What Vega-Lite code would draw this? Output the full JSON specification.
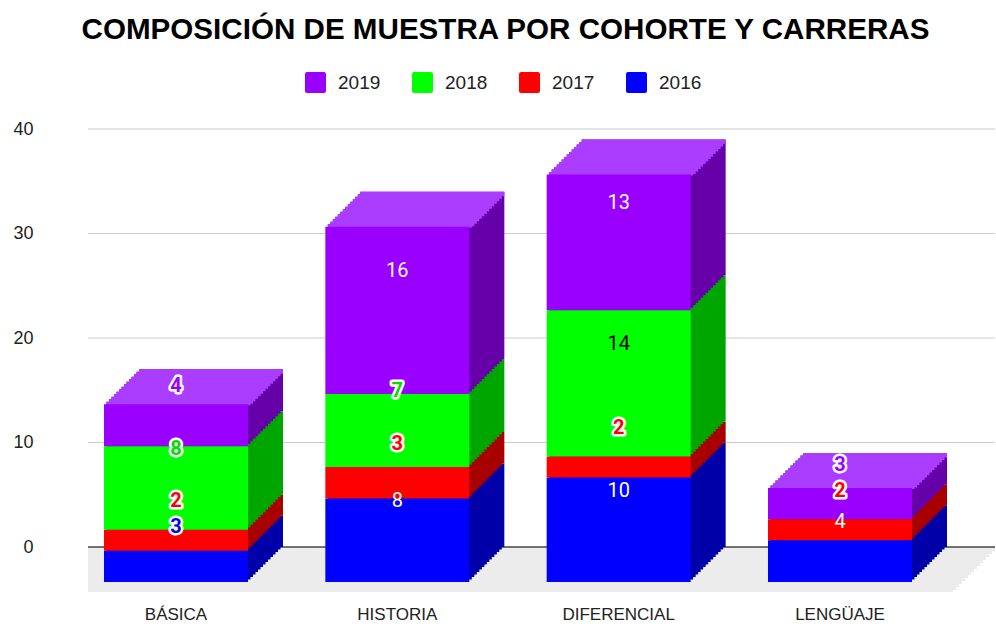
{
  "$schema": "https://vega.github.io/schema/vega-lite/v6.json",
  "autosize": "none",
  "width": 907,
  "height": 418,
  "padding": {"left": 88, "top": 129, "right": 1, "bottom": 79},
  "background": "white",
  "config": {"view": {"stroke": null}},
  "title": {"text": "COMPOSICIÓN DE MUESTRA POR COHORTE Y CARRERAS", "font": "Liberation Sans", "fontSize": 29.6, "fontWeight": "bold", "color": "#000000", "anchor": "middle", "dx": -36, "offset": 26},
  "data": {"values": [
    {"carrera": "BÁSICA", "cohorte": "2016", "n": 3},
    {"carrera": "BÁSICA", "cohorte": "2017", "n": 2},
    {"carrera": "BÁSICA", "cohorte": "2018", "n": 8},
    {"carrera": "BÁSICA", "cohorte": "2019", "n": 4},
    {"carrera": "HISTORIA", "cohorte": "2016", "n": 8},
    {"carrera": "HISTORIA", "cohorte": "2017", "n": 3},
    {"carrera": "HISTORIA", "cohorte": "2018", "n": 7},
    {"carrera": "HISTORIA", "cohorte": "2019", "n": 16},
    {"carrera": "DIFERENCIAL", "cohorte": "2016", "n": 10},
    {"carrera": "DIFERENCIAL", "cohorte": "2017", "n": 2},
    {"carrera": "DIFERENCIAL", "cohorte": "2018", "n": 14},
    {"carrera": "DIFERENCIAL", "cohorte": "2019", "n": 13},
    {"carrera": "LENGÜAJE", "cohorte": "2016", "n": 4},
    {"carrera": "LENGÜAJE", "cohorte": "2017", "n": 2},
    {"carrera": "LENGÜAJE", "cohorte": "2018", "n": 0},
    {"carrera": "LENGÜAJE", "cohorte": "2019", "n": 3}
  ]},
  "layer": [
    {
      "data": {"values": [{"v": 10}, {"v": 20}, {"v": 30}, {"v": 40}]},
      "mark": {"type": "rule", "color": "#cccccc", "strokeWidth": 1.2},
      "encoding": {"y": {"field": "v", "type": "quantitative"}}
    },
    {
      "data": {"values": [{}]},
      "encoding": {"y": {"datum": 0, "type": "quantitative"}, "y2": {"datum": 0}},
      "layer": [
        {"mark": {"type": "rect", "color": "#ececec", "yOffset": 0, "y2Offset": 4, "xOffset": 0, "x2Offset": 0}},
        {"mark": {"type": "rect", "color": "#ececec", "yOffset": 3, "y2Offset": 7, "xOffset": -3, "x2Offset": -3}},
        {"mark": {"type": "rect", "color": "#ececec", "yOffset": 6, "y2Offset": 10, "xOffset": -6, "x2Offset": -6}},
        {"mark": {"type": "rect", "color": "#ececec", "yOffset": 9, "y2Offset": 13, "xOffset": -9, "x2Offset": -9}},
        {"mark": {"type": "rect", "color": "#ececec", "yOffset": 12, "y2Offset": 16, "xOffset": -12, "x2Offset": -12}},
        {"mark": {"type": "rect", "color": "#ececec", "yOffset": 15, "y2Offset": 19, "xOffset": -15, "x2Offset": -15}},
        {"mark": {"type": "rect", "color": "#ececec", "yOffset": 18, "y2Offset": 22, "xOffset": -18, "x2Offset": -18}},
        {"mark": {"type": "rect", "color": "#ececec", "yOffset": 21, "y2Offset": 25, "xOffset": -21, "x2Offset": -21}},
        {"mark": {"type": "rect", "color": "#ececec", "yOffset": 24, "y2Offset": 28, "xOffset": -24, "x2Offset": -24}},
        {"mark": {"type": "rect", "color": "#ececec", "yOffset": 27, "y2Offset": 31, "xOffset": -27, "x2Offset": -27}},
        {"mark": {"type": "rect", "color": "#ececec", "yOffset": 30, "y2Offset": 34, "xOffset": -30, "x2Offset": -30}},
        {"mark": {"type": "rect", "color": "#ececec", "yOffset": 33, "y2Offset": 37, "xOffset": -33, "x2Offset": -33}},
        {"mark": {"type": "rect", "color": "#ececec", "yOffset": 36, "y2Offset": 40, "xOffset": -36, "x2Offset": -36}},
        {"mark": {"type": "rect", "color": "#ececec", "yOffset": 39, "y2Offset": 43, "xOffset": -39, "x2Offset": -39}},
        {"mark": {"type": "rect", "color": "#ececec", "yOffset": 42, "y2Offset": 45, "xOffset": -42, "x2Offset": -42}}
      ]
    },
    {
      "data": {"values": [{}]},
      "mark": {"type": "rule", "color": "#444444", "strokeWidth": 1.5},
      "encoding": {"y": {"datum": 0, "type": "quantitative"}}
    },
    {
      "encoding": {
        "x": {"field": "carrera", "type": "nominal",
              "scale": {"domain": ["BÁSICA", "HISTORIA", "DIFERENCIAL", "LENGÜAJE"], "range": [-22.67, 862.67], "paddingInner": 0, "paddingOuter": 0},
              "axis": {"title": null, "domain": false, "ticks": false, "tickSize": 0, "labelPadding": 59, "labelFont": "Liberation Sans", "labelFontSize": 17, "labelColor": "#222222", "labelAngle": 0}},
        "y": {"field": "n", "type": "quantitative", "stack": "zero",
              "scale": {"domain": [0, 40], "nice": false},
              "axis": {"title": null, "domain": false, "ticks": false, "tickSize": 0, "values": [0, 10, 20, 30, 40], "labelPadding": 55, "labelFont": "Liberation Sans", "labelFontSize": 18, "labelColor": "#222222", "grid": false}},
        "fill": {"field": "cohorte", "type": "nominal",
                 "scale": {"domain": ["2016", "2017", "2018", "2019"], "range": ["#0000a8", "#a80000", "#00a600", "#6600a8"]},
                 "legend": null},
        "order": {"field": "cohorte", "sort": "ascending"}
      },
      "layer": [
        {"mark": {"type": "bar", "width": 144, "xOffset": 35, "yOffset": 0, "y2Offset": 0}},
        {"mark": {"type": "bar", "width": 144, "xOffset": 32.5, "yOffset": 2.5, "y2Offset": 2.5}},
        {"mark": {"type": "bar", "width": 144, "xOffset": 30, "yOffset": 5, "y2Offset": 5}},
        {"mark": {"type": "bar", "width": 144, "xOffset": 27.5, "yOffset": 7.5, "y2Offset": 7.5}},
        {"mark": {"type": "bar", "width": 144, "xOffset": 25, "yOffset": 10, "y2Offset": 10}},
        {"mark": {"type": "bar", "width": 144, "xOffset": 22.5, "yOffset": 12.5, "y2Offset": 12.5}},
        {"mark": {"type": "bar", "width": 144, "xOffset": 20, "yOffset": 15, "y2Offset": 15}},
        {"mark": {"type": "bar", "width": 144, "xOffset": 17.5, "yOffset": 17.5, "y2Offset": 17.5}},
        {"mark": {"type": "bar", "width": 144, "xOffset": 15, "yOffset": 20, "y2Offset": 20}},
        {"mark": {"type": "bar", "width": 144, "xOffset": 12.5, "yOffset": 22.5, "y2Offset": 22.5}},
        {"mark": {"type": "bar", "width": 144, "xOffset": 10, "yOffset": 25, "y2Offset": 25}},
        {"mark": {"type": "bar", "width": 144, "xOffset": 7.5, "yOffset": 27.5, "y2Offset": 27.5}},
        {"mark": {"type": "bar", "width": 144, "xOffset": 5, "yOffset": 30, "y2Offset": 30}},
        {"mark": {"type": "bar", "width": 144, "xOffset": 2.5, "yOffset": 32.5, "y2Offset": 32.5}}
      ]
    },
    {
      "transform": [{"aggregate": [{"op": "sum", "field": "n", "as": "total"}], "groupby": ["carrera"]}],
      "encoding": {
        "x": {"field": "carrera", "type": "nominal"},
        "y": {"field": "total", "type": "quantitative"},
        "y2": {"field": "total"}
      },
      "layer": [
        {"mark": {"type": "bar", "color": "#aa3dff", "width": 144, "xOffset": 35, "yOffset": 0, "y2Offset": 4.5}},
        {"mark": {"type": "bar", "color": "#aa3dff", "width": 144, "xOffset": 32.5, "yOffset": 2.5, "y2Offset": 7}},
        {"mark": {"type": "bar", "color": "#aa3dff", "width": 144, "xOffset": 30, "yOffset": 5, "y2Offset": 9.5}},
        {"mark": {"type": "bar", "color": "#aa3dff", "width": 144, "xOffset": 27.5, "yOffset": 7.5, "y2Offset": 12}},
        {"mark": {"type": "bar", "color": "#aa3dff", "width": 144, "xOffset": 25, "yOffset": 10, "y2Offset": 14.5}},
        {"mark": {"type": "bar", "color": "#aa3dff", "width": 144, "xOffset": 22.5, "yOffset": 12.5, "y2Offset": 17}},
        {"mark": {"type": "bar", "color": "#aa3dff", "width": 144, "xOffset": 20, "yOffset": 15, "y2Offset": 19.5}},
        {"mark": {"type": "bar", "color": "#aa3dff", "width": 144, "xOffset": 17.5, "yOffset": 17.5, "y2Offset": 22}},
        {"mark": {"type": "bar", "color": "#aa3dff", "width": 144, "xOffset": 15, "yOffset": 20, "y2Offset": 24.5}},
        {"mark": {"type": "bar", "color": "#aa3dff", "width": 144, "xOffset": 12.5, "yOffset": 22.5, "y2Offset": 27}},
        {"mark": {"type": "bar", "color": "#aa3dff", "width": 144, "xOffset": 10, "yOffset": 25, "y2Offset": 29.5}},
        {"mark": {"type": "bar", "color": "#aa3dff", "width": 144, "xOffset": 7.5, "yOffset": 27.5, "y2Offset": 32}},
        {"mark": {"type": "bar", "color": "#aa3dff", "width": 144, "xOffset": 5, "yOffset": 30, "y2Offset": 34.5}},
        {"mark": {"type": "bar", "color": "#aa3dff", "width": 144, "xOffset": 2.5, "yOffset": 32.5, "y2Offset": 36}}
      ]
    },
    {
      "mark": {"type": "bar", "width": 144, "xOffset": 0, "yOffset": 35, "y2Offset": 35},
      "encoding": {
        "x": {"field": "carrera", "type": "nominal"},
        "y": {"field": "n", "type": "quantitative", "stack": "zero"},
        "color": {"field": "cohorte", "type": "nominal",
                  "scale": {"domain": ["2019", "2018", "2017", "2016"], "range": ["#9900ff", "#00ff00", "#ff0000", "#0000ff"]},
                  "legend": {"title": null, "orient": "none", "legendX": 217, "legendY": -57, "direction": "horizontal", "columns": 4, "columnPadding": 31, "padding": 0,
                             "symbolType": "M-0.8,-1H0.8Q1,-1,1,-0.8V0.8Q1,1,0.8,1H-0.8Q-1,1,-1,0.8V-0.8Q-1,-1,-0.8,-1Z",
                             "symbolSize": 441, "symbolStrokeWidth": 0, "labelOffset": 12, "labelFont": "Liberation Sans", "labelFontSize": 19, "labelColor": "#222222"}},
        "order": {"field": "cohorte", "sort": "ascending"}
      }
    },
    {
      "transform": [
        {"filter": "datum.n > 0"},
        {"stack": "n", "groupby": ["carrera"], "sort": [{"field": "cohorte", "order": "ascending"}], "as": ["s0", "s1"]},
        {"calculate": "(datum.s0 + datum.s1) / 2", "as": "medio"}
      ],
      "encoding": {
        "x": {"field": "carrera", "type": "nominal"},
        "y": {"field": "medio", "type": "quantitative"},
        "text": {"field": "n", "type": "quantitative"}
      },
      "layer": [
        {
          "transform": [{"filter": "!(datum.carrera !== 'BÁSICA' && (datum.n >= 8 || datum.cohorte === '2016'))"}],
          "mark": {"type": "text", "font": "Roboto", "fontSize": 20, "fontWeight": "bold", "align": "center", "baseline": "middle", "yOffset": -4, "stroke": "#ffffff", "strokeWidth": 5, "strokeJoin": "round", "fill": "#ffffff"}
        },
        {
          "transform": [{"filter": "!(datum.carrera !== 'BÁSICA' && (datum.n >= 8 || datum.cohorte === '2016'))"}],
          "mark": {"type": "text", "font": "Roboto", "fontSize": 20, "fontWeight": "bold", "align": "center", "baseline": "middle", "yOffset": -4},
          "encoding": {
            "color": {"condition": [
              {"test": "datum.cohorte === '2019'", "value": "#9900ff"},
              {"test": "datum.cohorte === '2018'", "value": "#00dd00"},
              {"test": "datum.cohorte === '2017'", "value": "#ff0000"}
            ], "value": "#0000ff"}
          }
        },
        {
          "transform": [{"filter": "datum.carrera !== 'BÁSICA' && (datum.n >= 8 || datum.cohorte === '2016')"}],
          "mark": {"type": "text", "font": "Roboto", "fontSize": 20, "align": "center", "baseline": "middle", "yOffset": -4},
          "encoding": {
            "color": {"condition": {"test": "datum.cohorte === '2018'", "value": "#000000"}, "value": "#ffffff"}
          }
        }
      ]
    }
  ]
}
